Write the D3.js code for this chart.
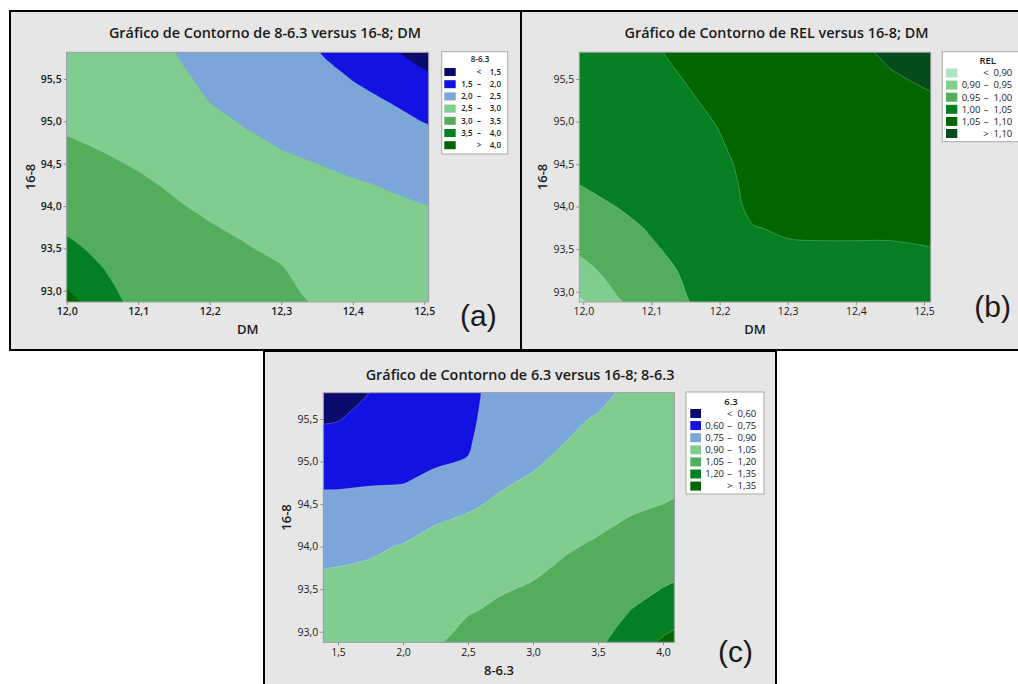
<!DOCTYPE html>
<html>
<head>
<meta charset="utf-8">
<script src="https://cdn.jsdelivr.net/npm/d3@7"></script>
<style>
  body { margin: 0; background: #fff; }
  svg { display: block; }
  text { font-family: "Open Sans", sans-serif; fill: #1a1a1a; }
</style>
</head>
<body>
<script>
// grid rows, top (16-8 = 96.0) to bottom (92.75)
var gridY = [96.0, 95.75, 95.5, 95.25, 95.0, 94.75, 94.5, 94.25, 94.0, 93.75, 93.5, 93.25, 93.0, 92.75];

// (a) 8-6.3 versus 16-8; DM
var gridXA = [11.95, 12.0, 12.05, 12.1, 12.15, 12.2, 12.25, 12.3, 12.35, 12.4, 12.45, 12.5, 12.55];
var valuesA = [
  [2.59, 2.57, 2.55, 2.53, 2.47, 2.29, 2.21, 2.08, 1.95, 1.70, 1.45, 1.23, 1.12],
  [2.69, 2.65, 2.60, 2.57, 2.52, 2.35, 2.28, 2.16, 2.04, 1.85, 1.60, 1.40, 1.28],
  [2.79, 2.74, 2.69, 2.65, 2.59, 2.42, 2.34, 2.23, 2.14, 1.99, 1.80, 1.58, 1.46],
  [2.89, 2.84, 2.78, 2.73, 2.66, 2.49, 2.41, 2.31, 2.23, 2.10, 1.99, 1.79, 1.67],
  [2.98, 2.93, 2.87, 2.81, 2.74, 2.58, 2.47, 2.39, 2.32, 2.21, 2.11, 1.99, 1.88],
  [3.08, 3.03, 2.96, 2.89, 2.81, 2.67, 2.56, 2.47, 2.41, 2.33, 2.24, 2.13, 2.06],
  [3.19, 3.13, 3.05, 2.97, 2.88, 2.76, 2.65, 2.56, 2.50, 2.44, 2.36, 2.26, 2.19],
  [3.30, 3.23, 3.14, 3.05, 2.96, 2.85, 2.75, 2.65, 2.57, 2.53, 2.48, 2.39, 2.33],
  [3.42, 3.33, 3.23, 3.11, 3.03, 2.94, 2.84, 2.74, 2.64, 2.59, 2.55, 2.51, 2.47],
  [3.55, 3.44, 3.32, 3.18, 3.09, 3.02, 2.94, 2.83, 2.71, 2.65, 2.62, 2.57, 2.55],
  [3.74, 3.58, 3.41, 3.24, 3.15, 3.08, 3.02, 2.93, 2.78, 2.72, 2.68, 2.64, 2.61],
  [3.98, 3.80, 3.51, 3.29, 3.21, 3.15, 3.09, 3.02, 2.85, 2.78, 2.74, 2.70, 2.67],
  [4.22, 4.02, 3.64, 3.30, 3.26, 3.21, 3.15, 3.09, 2.91, 2.84, 2.80, 2.76, 2.74],
  [4.45, 4.24, 3.80, 3.33, 3.31, 3.27, 3.22, 3.17, 2.98, 2.90, 2.87, 2.82, 2.80]
];
var levelsA = [1.5, 2.0, 2.5, 3.0, 3.5, 4.0];
var colorsA = ["#0b0b6e", "#1212e2", "#7ba6d9", "#80cd8f", "#52ae5b", "#028022", "#006400"];
var legendA = [["<", "1,5"], ["1,5", "2,0"], ["2,0", "2,5"], ["2,5", "3,0"], ["3,0", "3,5"], ["3,5", "4,0"], [">", "4,0"]];

// (b) REL versus 16-8; DM
var gridXB = [11.95, 12.0, 12.05, 12.1, 12.15, 12.2, 12.25, 12.3, 12.35, 12.4, 12.45, 12.5, 12.55];
var valuesB = [
  [1.035, 1.039, 1.046, 1.050, 1.061, 1.072, 1.080, 1.085, 1.090, 1.098, 1.111, 1.119, 1.125],
  [1.030, 1.034, 1.041, 1.045, 1.056, 1.067, 1.077, 1.081, 1.086, 1.093, 1.103, 1.111, 1.117],
  [1.024, 1.028, 1.035, 1.040, 1.051, 1.062, 1.073, 1.078, 1.082, 1.088, 1.097, 1.103, 1.109],
  [1.019, 1.023, 1.029, 1.035, 1.046, 1.057, 1.070, 1.074, 1.078, 1.083, 1.090, 1.096, 1.101],
  [1.013, 1.017, 1.024, 1.029, 1.041, 1.052, 1.066, 1.070, 1.073, 1.078, 1.084, 1.089, 1.094],
  [1.008, 1.012, 1.018, 1.024, 1.036, 1.048, 1.063, 1.067, 1.069, 1.073, 1.078, 1.082, 1.087],
  [1.002, 1.006, 1.012, 1.019, 1.031, 1.044, 1.059, 1.063, 1.065, 1.068, 1.072, 1.076, 1.079],
  [0.990, 1.001, 1.006, 1.014, 1.026, 1.040, 1.058, 1.060, 1.061, 1.063, 1.066, 1.069, 1.072],
  [0.975, 0.988, 1.0005, 1.009, 1.021, 1.035, 1.057, 1.057, 1.057, 1.058, 1.060, 1.062, 1.064],
  [0.958, 0.973, 0.989, 1.0035, 1.015, 1.031, 1.049, 1.053, 1.053, 1.053, 1.053, 1.055, 1.057],
  [0.940, 0.959, 0.977, 0.996, 1.010, 1.027, 1.042, 1.047, 1.048, 1.048, 1.048, 1.049, 1.051],
  [0.915, 0.939, 0.966, 0.985, 1.005, 1.023, 1.036, 1.041, 1.043, 1.042, 1.042, 1.043, 1.044],
  [0.890, 0.911, 0.954, 0.973, 1.000, 1.019, 1.031, 1.036, 1.037, 1.037, 1.037, 1.038, 1.038],
  [0.870, 0.883, 0.936, 0.962, 0.993, 1.015, 1.025, 1.030, 1.032, 1.032, 1.032, 1.032, 1.032]
];
var levelsB = [0.90, 0.95, 1.00, 1.05, 1.10];
var colorsB = ["#a8e5c3", "#80cd8f", "#52ae5b", "#048022", "#006600", "#044c1c"];
var legendB = [["<", "0,90"], ["0,90", "0,95"], ["0,95", "1,00"], ["1,00", "1,05"], ["1,05", "1,10"], [">", "1,10"]];

// (c) 6.3 versus 16-8; 8-6.3
var gridXC = [1.25, 1.5, 1.75, 2.0, 2.25, 2.5, 2.75, 3.0, 3.25, 3.5, 3.75, 4.0, 4.25];
var valuesC = [
  [0.480, 0.500, 0.575, 0.609, 0.654, 0.705, 0.800, 0.830, 0.861, 0.865, 0.898, 0.930, 0.940],
  [0.530, 0.547, 0.611, 0.637, 0.675, 0.712, 0.810, 0.844, 0.873, 0.885, 0.921, 0.950, 0.960],
  [0.580, 0.594, 0.644, 0.664, 0.696, 0.720, 0.825, 0.858, 0.886, 0.906, 0.944, 0.970, 0.980],
  [0.627, 0.642, 0.677, 0.692, 0.717, 0.733, 0.845, 0.872, 0.898, 0.933, 0.967, 0.990, 1.000],
  [0.678, 0.689, 0.710, 0.719, 0.738, 0.756, 0.866, 0.886, 0.924, 0.959, 0.990, 1.010, 1.020],
  [0.732, 0.736, 0.743, 0.747, 0.777, 0.818, 0.889, 0.915, 0.953, 0.985, 1.013, 1.030, 1.040],
  [0.776, 0.780, 0.788, 0.801, 0.839, 0.885, 0.916, 0.945, 0.982, 1.011, 1.035, 1.050, 1.065],
  [0.818, 0.822, 0.836, 0.860, 0.901, 0.922, 0.948, 0.975, 1.011, 1.037, 1.062, 1.088, 1.103],
  [0.860, 0.863, 0.883, 0.907, 0.924, 0.952, 0.979, 1.005, 1.040, 1.063, 1.097, 1.126, 1.140],
  [0.893, 0.902, 0.913, 0.929, 0.949, 0.982, 1.011, 1.035, 1.063, 1.087, 1.131, 1.164, 1.178],
  [0.914, 0.922, 0.934, 0.950, 0.973, 1.012, 1.042, 1.060, 1.082, 1.112, 1.166, 1.203, 1.233],
  [0.934, 0.942, 0.955, 0.972, 0.997, 1.042, 1.067, 1.081, 1.102, 1.136, 1.201, 1.268, 1.317],
  [0.954, 0.962, 0.976, 0.994, 1.021, 1.073, 1.090, 1.103, 1.122, 1.161, 1.244, 1.334, 1.400],
  [0.974, 0.982, 0.996, 1.015, 1.046, 1.104, 1.112, 1.124, 1.142, 1.185, 1.288, 1.407, 1.480]
];
var levelsC = [0.60, 0.75, 0.90, 1.05, 1.20, 1.35];
var colorsC = ["#0b0b6e", "#1212e2", "#7ba6d9", "#80cd8f", "#52ae5b", "#028022", "#006400"];
var legendC = [["<", "0,60"], ["0,60", "0,75"], ["0,75", "0,90"], ["0,90", "1,05"], ["1,05", "1,20"], ["1,20", "1,35"], [">", "1,35"]];

// tick values
var ticksDM = [12.0, 12.1, 12.2, 12.3, 12.4, 12.5];
var ticks86 = [1.5, 2.0, 2.5, 3.0, 3.5, 4.0];
var ticks168 = [93.0, 93.5, 94.0, 94.5, 95.0, 95.5];

var comma = function(d) { return d3.format(".1f")(d).replace(".", ","); };

var svg = d3.select("body").append("svg")
    .attr("width", 1018)
    .attr("height", 684);

function drawPanel(p) {
  var g = svg.append("g");
  g.append("rect")
      .attr("x", p.frame[0]).attr("y", p.frame[1])
      .attr("width", p.frame[2]).attr("height", p.frame[3])
      .attr("fill", "#e6e6e6")
      .attr("stroke", "#000")
      .attr("stroke-width", 2);

  var x = d3.scaleLinear().domain(p.xDomain).range(p.xRange);
  var y = d3.scaleLinear().domain([93.0, 95.5]).range(p.yRange);
  var px0 = p.plot[0], py0 = p.plot[1], px1 = p.plot[2], py1 = p.plot[3];

  g.append("clipPath").attr("id", "clip" + p.id)
    .append("rect")
      .attr("x", px0).attr("y", py0)
      .attr("width", px1 - px0).attr("height", py1 - py0);

  var area = g.append("g").attr("clip-path", "url(#clip" + p.id + ")");
  area.append("rect")
      .attr("x", px0).attr("y", py0)
      .attr("width", px1 - px0).attr("height", py1 - py0)
      .attr("fill", p.colors[0]);

  // grid value i sits at the centre of cell i in d3.contours output
  var gx = p.gridX, gy = gridY;
  var sx = gx[1] - gx[0], sy = gy[0] - gy[1];
  var toPx = function(pt) {
    return [x(gx[0] + (pt[0] - 0.5) * sx), y(gy[0] - (pt[1] - 0.5) * sy)];
  };
  var ring = d3.line().curve(d3.curveCatmullRomClosed.alpha(0.5));
  var bands = d3.contours()
      .size([gx.length, gy.length])
      .thresholds(p.levels)(p.values.flat());

  area.selectAll("path.band")
    .data(bands)
    .join("path")
      .attr("class", "band")
      .attr("d", function(b) {
        return b.coordinates.map(function(poly) {
          return poly.map(function(r) { return ring(r.slice(0, -1).map(toPx)); }).join("");
        }).join("");
      })
      .attr("fill-rule", "evenodd")
      .attr("fill", function(d, i) { return p.colors[i + 1]; })
      .attr("stroke", p.seam ? "rgba(255,255,255,0.35)" : "none")
      .attr("stroke-width", 0.7);

  g.append("rect")
      .attr("x", px0).attr("y", py0)
      .attr("width", px1 - px0).attr("height", py1 - py0)
      .attr("fill", "none")
      .attr("stroke", "#a3a3a3")
      .attr("stroke-width", 1);

  var xAxis = g.append("g")
      .attr("transform", "translate(0," + py1 + ")")
      .call(d3.axisBottom(x).tickValues(p.xTicks).tickFormat(comma).tickSize(3).tickPadding(3));
  var yAxis = g.append("g")
      .attr("transform", "translate(" + px0 + ",0)")
      .call(d3.axisLeft(y).tickValues(ticks168).tickFormat(comma).tickSize(3).tickPadding(2));
  [xAxis, yAxis].forEach(function(a) {
    a.select(".domain").remove();
    a.selectAll(".tick line").attr("stroke", "#8a8a8a");
    a.selectAll(".tick text")
        .style("font-family", "'Open Sans', sans-serif")
        .style("font-size", "10.5px")
        .style("font-weight", p.tickWeight)
        .attr("fill", "#222");
  });

  g.append("text")
      .attr("x", p.title[1]).attr("y", p.title[2])
      .attr("text-anchor", "middle")
      .style("font-size", "14.4px")
      .style("font-weight", 600)
      .text(p.title[0]);

  g.append("text")
      .attr("x", p.xLabel[1]).attr("y", p.xLabel[2])
      .attr("text-anchor", "middle")
      .style("font-size", "13px")
      .style("font-weight", 600)
      .text(p.xLabel[0]);

  g.append("text")
      .attr("transform", "translate(" + p.yLabel[0] + "," + p.yLabel[1] + ") rotate(-90)")
      .attr("text-anchor", "middle")
      .style("font-size", "13px")
      .style("font-weight", 600)
      .text("16-8");

  // legend
  var L = p.legend;
  var lg = g.append("g");
  lg.append("rect")
      .attr("x", L.box[0]).attr("y", L.box[1])
      .attr("width", L.box[2]).attr("height", L.box[3])
      .attr("fill", "#fff")
      .attr("stroke", "#a8a8a8");
  lg.append("text")
      .attr("x", L.titleX).attr("y", L.titleY)
      .attr("text-anchor", "middle")
      .style("font-size", L.font + "px")
      .style("font-weight", 600)
      .text(L.name);
  var rows = lg.selectAll("g.row")
    .data(L.labels)
    .join("g")
      .attr("class", "row")
      .attr("transform", function(d, i) { return "translate(0," + (L.row0 + i * L.step) + ")"; });
  rows.append("rect")
      .attr("x", L.swX).attr("y", -L.swH / 2)
      .attr("width", L.swW).attr("height", L.swH)
      .attr("fill", function(d, i) { return p.colors[i]; });
  rows.append("text")
      .attr("x", L.loX).attr("dy", "0.35em")
      .style("font-size", L.font + "px")
      .style("font-weight", L.weight)
      .text(function(d) { return d[0] === "<" || d[0] === ">" ? "" : d[0]; });
  rows.append("text")
      .attr("x", L.dashX).attr("dy", "0.35em")
      .attr("text-anchor", "middle")
      .style("font-size", L.font + "px")
      .style("font-weight", L.weight)
      .text(function(d) { return d[0] === "<" || d[0] === ">" ? d[0] : "\u2013"; });
  rows.append("text")
      .attr("x", L.hiX).attr("dy", "0.35em")
      .attr("text-anchor", "end")
      .style("font-size", L.font + "px")
      .style("font-weight", L.weight)
      .text(function(d) { return d[1]; });

  g.append("text")
      .attr("x", p.tag[1]).attr("y", p.tag[2])
      .style("font-family", "'Liberation Sans', Arial, sans-serif")
      .style("font-size", "30px")
      .attr("fill", "#111")
      .text(p.tag[0]);
}

drawPanel({
  id: "c", frame: [264, 351, 512, 345], plot: [323.3, 392.7, 674.3, 642.3],
  xDomain: [1.5, 4.0], xRange: [338, 663], yRange: [631.7, 419], xTicks: ticks86, tickWeight: 400,
  gridX: gridXC, values: valuesC, levels: levelsC, colors: colorsC, seam: true,
  title: ["Gráfico de Contorno de 6.3 versus 16-8; 8-6.3", 520, 380],
  xLabel: ["8-6.3", 499, 675], yLabel: [291, 517.5], tag: ["(c)", 718, 662],
  legend: { name: "6.3", labels: legendC, box: [686, 392, 78, 102], titleX: 731, titleY: 405,
            row0: 413.5, step: 12.1, swX: 690.3, swW: 10.7, swH: 9, loX: 705.3, dashX: 729.7, hiX: 756.3,
            font: 9.5, weight: 400 }
});

drawPanel({
  id: "a", frame: [10, 11, 511, 339], plot: [66.7, 52.3, 428.7, 302],
  xDomain: [12.0, 12.5], xRange: [66.7, 424.3], yRange: [290.7, 79], xTicks: ticksDM, tickWeight: 600,
  gridX: gridXA, values: valuesA, levels: levelsA, colors: colorsA, seam: false,
  title: ["Gráfico de Contorno de 8-6.3 versus 16-8; DM", 265, 38],
  xLabel: ["DM", 247.7, 334], yLabel: [35, 177], tag: ["(a)", 460, 325.5],
  legend: { name: "8-6.3", labels: legendA, box: [441.7, 51.7, 66, 102.3], titleX: 480, titleY: 62,
            row0: 72, step: 12.2, swX: 444.3, swW: 11.4, swH: 8, loX: 461.2, dashX: 479, hiX: 501,
            font: 8, weight: 600 }
});

drawPanel({
  id: "b", frame: [521, 11, 511, 339], plot: [579.3, 52.3, 930.7, 302],
  xDomain: [12.0, 12.5], xRange: [583.3, 924], yRange: [291.7, 79], xTicks: ticksDM, tickWeight: 400,
  gridX: gridXB, values: valuesB, levels: levelsB, colors: colorsB, seam: true,
  title: ["Gráfico de Contorno de REL versus 16-8; DM", 776.5, 38],
  xLabel: ["DM", 755, 334], yLabel: [547, 177], tag: ["(b)", 974.3, 317],
  legend: { name: "REL", labels: legendB, box: [942.3, 51.7, 90, 90], titleX: 987.7, titleY: 64,
            row0: 73, step: 12.1, swX: 946, swW: 11.3, swH: 9, loX: 961.7, dashX: 986, hiX: 1012.3,
            font: 9.5, weight: 400 }
});
</script>
</body>
</html>
